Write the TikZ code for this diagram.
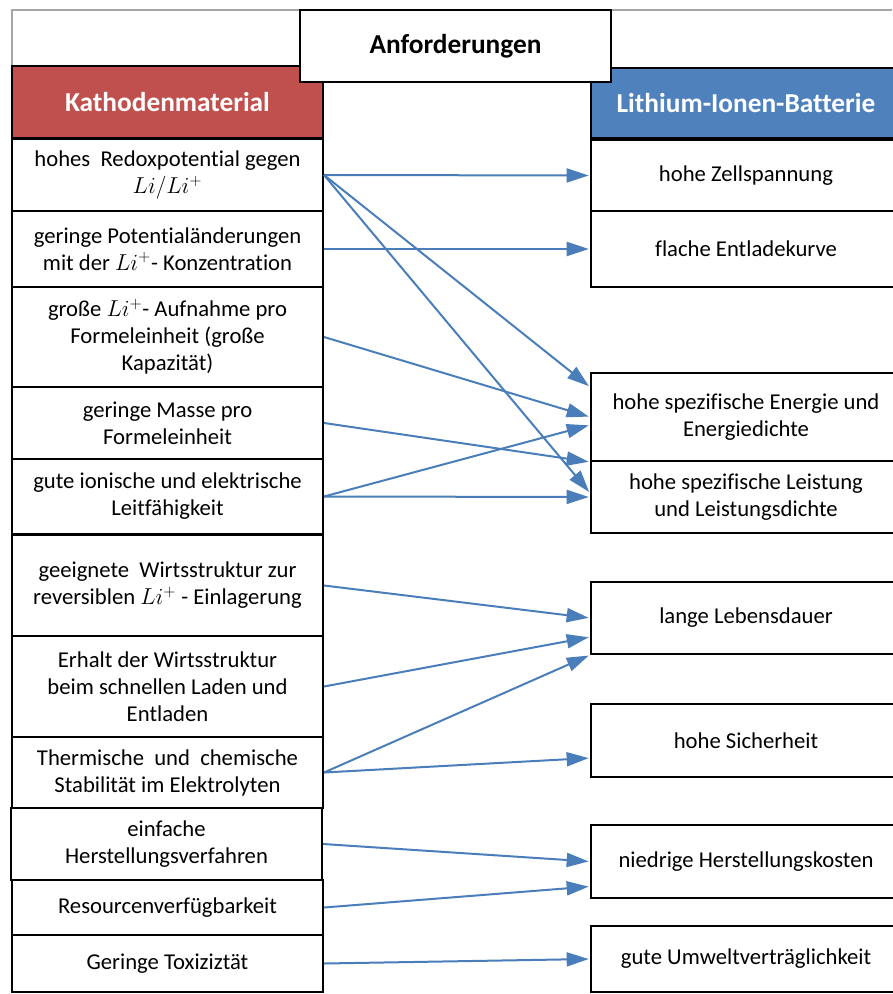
\documentclass[tikz,border=0pt]{standalone}
\usepackage{fontspec}
\setmainfont{Carlito}[RawFeature=-liga]
\usetikzlibrary{arrows.meta,calc}

\definecolor{kathred}{HTML}{C0504D}
\definecolor{battblue}{HTML}{4F81BD}
\definecolor{linkblue}{HTML}{4A7EBB}
\definecolor{framegray}{HTML}{A6A6A6}

\tikzset{
  cell/.style={draw, line width=1.5pt, fill=white, align=center, inner sep=0pt,
    font=\fontsize{17}{20.25}\selectfont},
  kcell/.style={cell, minimum width=233.25pt},
  bcell/.style={cell, minimum width=232.5pt},
  head/.style={draw, line width=1.5pt, text=white, inner sep=0pt,
    font=\fontsize{20.5}{24}\selectfont\bfseries},
  link/.style={draw=linkblue, line width=1.5pt, shorten >=1pt,
    -{Triangle[length=16.5pt,width=10.5pt]}}
}

\begin{document}
\begin{tikzpicture}[x=0.75pt, y=-0.75pt]

  \useasboundingbox (0,0) rectangle (892,994);

  % Frame
  \draw[framegray, line width=1.2pt] (12,66) -- (12,10) -- (892,10);

  % Headers
  \node[head, fill=kathred, minimum width=233.25pt, minimum height=54pt]
    (kathode) at (167.5,102) {Kathodenmaterial};
  \node[head, fill=battblue, minimum width=232.5pt, minimum height=52.5pt]
    (batterie) at (746,103) {Lithium-Ionen-Batterie};
  \node[draw, line width=1.5pt, fill=white, minimum width=233.25pt, minimum height=54pt,
    font=\fontsize{20.5}{24}\selectfont\bfseries]
    (anf) at (455.5,46) {Anforderungen};

  % Kathodenmaterial
  \node[kcell, minimum height=54pt] (k1) at (167.5,175)
    {hohes~ Redoxpotential gegen\\$Li/Li^{+}$};
  \node[kcell, minimum height=57pt] (k2) at (167.5,249)
    {geringe Potentialänderungen\\mit der $Li^{+}$- Konzentration};
  \node[kcell, minimum height=75pt] (k3) at (167.5,337)
    {große $Li^{+}$- Aufnahme pro\\Formeleinheit (große\\Kapazität)};
  \node[kcell, minimum height=54pt] (k4) at (167.5,423)
    {geringe Masse pro\\Formeleinheit};
  \node[kcell, minimum height=56.25pt] (k5) at (167.5,496.5)
    {gute ionische und elektrische\\Leitfähigkeit};
  \node[kcell, minimum height=75.75pt] (k6) at (167.5,585.5)
    {geeignete~ Wirtsstruktur zur\\reversiblen $Li^{+}$ - Einlagerung};
  \node[kcell, minimum height=75.75pt] (k7) at (167.5,686.5)
    {Erhalt der Wirtsstruktur\\beim schnellen Laden und\\Entladen};
  \node[kcell, minimum height=53.25pt] (k8) at (167.5,772.5)
    {Thermische~ und~ chemische\\Stabilität im Elektrolyten};
  \node[kcell, minimum height=54pt] (k9) at (166.5,844)
    {einfache\\Herstellungsverfahren};
  \node[kcell, minimum height=41.25pt] (k10) at (167.5,907.5)
    {Resourcenverfügbarkeit};
  \node[kcell, minimum height=42.75pt] (k11) at (167.5,963.5)
    {Geringe Toxiziztät};

  % Lithium-Ionen-Batterie
  \node[bcell, minimum height=53.25pt] (b1) at (746,175.5) {hohe Zellspannung};
  \node[bcell, minimum height=57pt] (b2) at (746,249) {flache Entladekurve};
  \node[bcell, minimum height=66pt] (b3) at (746,417)
    {hohe spezifische Energie und\\Energiedichte};
  \node[bcell, minimum height=54pt] (b4) at (746,497)
    {hohe spezifische Leistung\\und Leistungsdichte};
  \node[bcell, minimum height=54pt] (b5) at (746,618) {lange Lebensdauer};
  \node[bcell, minimum height=54.75pt] (b6) at (746,740.5) {hohe Sicherheit};
  \node[bcell, minimum height=54.75pt] (b7) at (746,861.5) {niedrige Herstellungskosten};
  \node[bcell, minimum height=49.5pt] (b8) at (746,959) {gute Umweltverträglichkeit};

  % Links
  \draw[link] (k1.east) -- (b1.west);
  \draw[link] (k1.east) -- ($(b3.west)+(0,-30)$);
  \draw[link] (k1.east) -- ($(b4.west)+(0,-4)$);
  \draw[link] (k2.east) -- (b2.west);
  \draw[link] (k3.east) -- (b3.west);
  \draw[link] (k4.east) -- (b3.south west);
  \draw[link] (k5.east) -- ($(b3.west)+(0,8)$);
  \draw[link] (k5.east) -- (b4.west);
  \draw[link] (k6.east) -- (b5.west);
  \draw[link] (k7.east) -- ($(b5.west)+(0,19)$);
  \draw[link] (k8.east) -- (b5.south west);
  \draw[link] (k8.east) -- ($(b6.west)+(0,17.5)$);
  \draw[link] (k9.east) -- (b7.west);
  \draw[link] (k10.east) -- ($(b7.west)+(0,25)$);
  \draw[link] (k11.east) -- (b8.west);

\end{tikzpicture}
\end{document}
